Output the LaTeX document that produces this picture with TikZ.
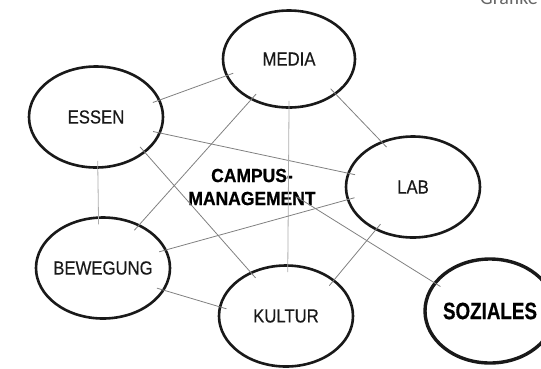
\documentclass[tikz,border=0pt]{standalone}
\usepackage{fontspec}
\setmainfont{Liberation Sans}
\newfontfamily\narrowfont[FakeStretch=0.88, FakeBold=0.4]{Liberation Sans}
\newfontfamily\campusfont[FakeStretch=0.92, FakeBold=0.8]{Liberation Sans}
\newfontfamily\sozfont[FakeStretch=0.8, FakeBold=0.5]{Liberation Sans}
\newfontfamily\notefont{Carlito}
\usetikzlibrary{shapes.geometric}

\begin{document}
\begin{tikzpicture}[x=1pt, y=-1pt,
    topic/.style={ellipse, draw=black!90, line width=2.6pt, inner xsep=-12pt, inner ysep=0pt,
      minimum width=134pt, minimum height=101pt, text=black!90,
      font=\narrowfont\fontsize{19}{19}\selectfont},
    link/.style={draw=black!50, line width=0.8pt, shorten <=-8pt, shorten >=-8pt},
    faint/.style={link, draw=black!32}]
  \useasboundingbox (0,0) rectangle (541,368);
  \clip (0,0) rectangle (541,368);
  % corner note, cut at the top
  \node[anchor=base west, inner sep=0pt, text=black!60,
    font=\notefont\fontsize{20}{20}\selectfont] (note) at (480,4) {Grafike};
  % topics
  \node[topic] (media) at (289,59) [minimum width=132pt, minimum height=97pt] {MEDIA};
  \node[topic] (essen) at (96,117) {ESSEN};
  \node[topic] (lab) at (413,187) {LAB};
  \node[topic] (beweg) at (103,268) {BEWEGUNG};
  \node[topic] (kultur) at (286,316) {KULTUR};
  \node[topic, line width=3.4pt, minimum width=130pt, minimum height=104pt, text=black,
    font=\sozfont\bfseries\fontsize{23.5}{23.5}\selectfont] (soz) at (490,311) {SOZIALES};
  % centre
  \node[align=center, inner sep=0pt, text=black,
    font=\campusfont\bfseries\fontsize{19}{23}\selectfont] (campus) at (252,187) {CAMPUS-\\MANAGEMENT};
  \coordinate (campfoot) at (297,197);
  % links
  \draw[link] (essen.15) -- (media.195);
  \draw[link] (essen.-14) -- (lab.168);
  \draw[link] (essen.-36) -- (kultur.129);
  \draw[faint] (essen.-88) -- (beweg.95);
  \draw[link] (media.-133) -- (beweg.50);
  \draw[faint] (media.-90) -- (kultur.88);
  \draw[link] (media.-37) -- (lab.125);
  \draw[link] (beweg.16) -- (lab.191);
  \draw[link] (beweg.-20) -- (kultur.172);
  \draw[link] (kultur.37) -- (lab.-131);
  \draw[link, shorten <=0pt] (campfoot) -- (soz.153);
\end{tikzpicture}
\end{document}
